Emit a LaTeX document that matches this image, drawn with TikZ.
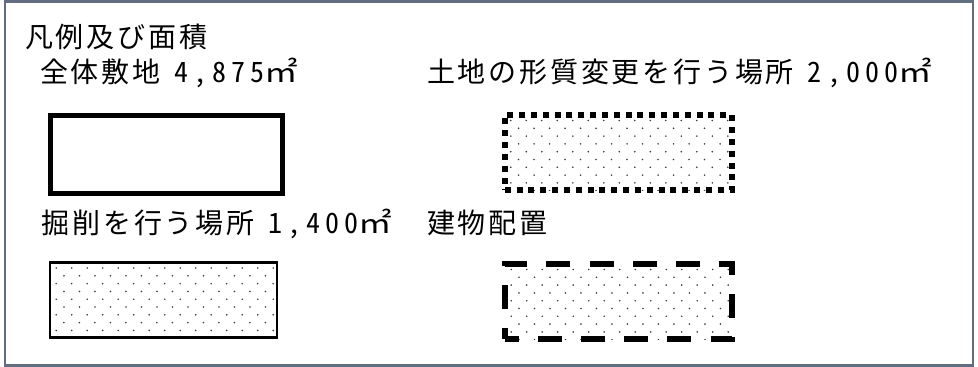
\documentclass[tikz,border=0pt]{standalone}
\usepackage{fontspec}
\newfontfamily\jp[LetterSpace=10]{Noto Sans CJK JP}
\usetikzlibrary{positioning}
\definecolor{framegray}{RGB}{96,110,128}
\definecolor{dotgray}{RGB}{60,60,60}
\newcommand{\areanum}[1]{\hspace{14pt}{\addfontfeature{CharacterWidth=Half,LetterSpace=18}#1}\scalebox{1.2}[1]{㎡}}
\tikzset{
    legendtext/.style={
        anchor=base west,
        inner sep=0pt,
        font=\jp\fontsize{28pt}{30pt}\selectfont
    },
    legendbox/.style={
        rectangle,
        inner sep=0pt,
        minimum width=227pt,
        minimum height=75pt
    },
    stipple/.style={
        path picture={
            \foreach \r in {0,...,10} {
                \foreach \c in {0,...,15} {
                    \fill[dotgray] ([xshift={6pt+15.5pt*\c+7.75pt*mod(\r,2)},
                        yshift={-5.5pt-7.8pt*\r}]path picture bounding box.north west)
                        circle (0.9pt);
                }
            }
        }
    },
    sitebox/.style={draw, line width=5pt, minimum width=231.5pt, minimum height=77.5pt},
    areabox/.style={draw, line width=5.5pt, line cap=butt,
        dash pattern=on 6pt off 5.83pt, stipple},
    digbox/.style={draw, line width=2.5pt, stipple},
    bldgbox/.style={draw, line width=5.5pt, line cap=butt,
        dash pattern=on 24pt off 19.07pt, dash phase=10pt, stipple},
}
\begin{document}
\begin{tikzpicture}[x=1pt,y=-1pt]
\useasboundingbox (0,0) rectangle (978,367);
% frame
\draw[framegray, line width=2.5pt] (5,1.5) rectangle (973,365.5);
% labels
\node[legendtext] (legend) at (25,47) {凡例及び面積};
\node[legendtext] (siteLbl) at (40,82.5) {全体敷地\areanum{4,875}};
\node[legendtext] (areaLbl) at (427,82.5) {土地の形質変更を行う場所\areanum{2,000}};
\node[legendtext] (digLbl) at (41.5,233) {掘削を行う場所\areanum{1,400}};
\node[legendtext] (bldgLbl) at (427,233) {建物配置};
% boxes
\node[legendbox, sitebox] (siteBox) at (166.6,154.6) {};
\node[legendbox, areabox] (areaBox) at (618.3,152.5) {};
\node[legendbox, digbox] (digBox) at (163.7,300) {};
\node[legendbox, bldgbox] (bldgBox) at (618.7,301.5) {};
\end{tikzpicture}
\end{document}
